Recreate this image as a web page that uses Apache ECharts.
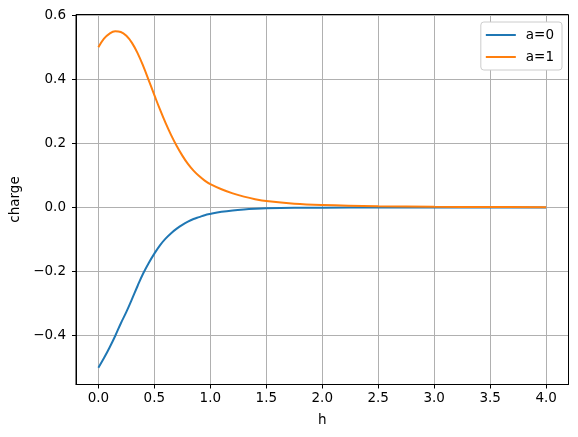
<!DOCTYPE html>
<html>
<head>
<meta charset="utf-8">
<script src="https://cdn.jsdelivr.net/npm/echarts@6/dist/echarts.min.js"></script>
<style>html,body{margin:0;padding:0;background:#fff}#c{width:578px;height:437px}</style>
</head>
<body>
<div id="c"></div>
<script>
const hValues = [0,0.05,0.1,0.15,0.2,0.25,0.3,0.35,0.4,0.45,0.5,0.55,0.6,0.65,0.7,0.75,0.8,0.85,0.9,0.95,1.0,1.1,1.2,1.3,1.4,1.5,1.75,2.0,2.5,3.0,3.5,4.0];
const chargeA0 = [-0.5,-0.47,-0.437,-0.401,-0.362,-0.326,-0.286,-0.245,-0.206,-0.173,-0.144,-0.118,-0.097,-0.08,-0.066,-0.054,-0.044,-0.036,-0.03,-0.024,-0.02,-0.0135,-0.009,-0.006,-0.004,-0.0027,-0.001,-0.0004,-0.0001,0,0,0];
const chargeA1 = [0.5,0.527,0.543,0.55,0.548,0.536,0.514,0.482,0.442,0.397,0.351,0.306,0.264,0.226,0.192,0.162,0.136,0.115,0.098,0.084,0.073,0.057,0.044,0.034,0.026,0.02,0.0115,0.0075,0.0038,0.0023,0.0015,0.001];
const xTicks = [0,0.5,1.0,1.5,2.0,2.5,3.0,3.5,4.0];
const yTicks = [-0.4,-0.2,0.0,0.2,0.4,0.6];
const seriesNames = ['a=0','a=1'];

const font = 'DejaVu Sans';
const fmt = v => (v < 0 ? '\u2212' : '') + Math.abs(v).toFixed(1);
const chart = echarts.init(document.getElementById('c'));
chart.setOption({
  animation: false,
  grid: {left: 73.5, right: 9.5, top: 14.5, bottom: 52.5, show: true, borderColor: '#000', borderWidth: 1, z: 3, containLabel: false},
  legend: {
    right: 16, top: 22, orient: 'vertical', data: seriesNames,
    icon: 'rect', itemWidth: 30, itemHeight: 2,
    backgroundColor: '#fff', borderColor: '#cccccc', borderWidth: 1, borderRadius: 3,
    padding: [6, 8, 6, 5], itemGap: 8,
    textStyle: {fontFamily: font, fontSize: 13.5, color: '#000', padding: [0,0,0,5]}
  },
  xAxis: {
    type: 'value', min: -0.2, max: 4.2,
    name: 'h', nameLocation: 'middle', nameGap: 29,
    nameTextStyle: {fontFamily: font, fontSize: 13.5, color: '#000'},
    axisLine: {show: true, onZero: false, lineStyle: {color: '#000', width: 1}},
    axisTick: {show: true, inside: false, length: 4, customValues: xTicks, lineStyle: {color: '#000'}},
    axisLabel: {customValues: xTicks, formatter: fmt, margin: 7, fontFamily: font, fontSize: 13.5, color: '#000'},
    splitLine: {show: true, lineStyle: {color: '#b0b0b0', width: 1}}
  },
  yAxis: {
    type: 'value', min: -0.5525, max: 0.6025,
    name: 'charge', nameLocation: 'middle', nameGap: 54, nameRotate: 90,
    nameTextStyle: {fontFamily: font, fontSize: 13.5, color: '#000'},
    axisLine: {show: true, onZero: false, lineStyle: {color: '#000', width: 1}},
    axisTick: {show: true, inside: false, length: 4, customValues: yTicks, lineStyle: {color: '#000'}},
    axisLabel: {customValues: yTicks, formatter: fmt, margin: 10, fontFamily: font, fontSize: 13.5, color: '#000'},
    splitLine: {show: true, lineStyle: {color: '#b0b0b0', width: 1}}
  },
  series: [
    {name: seriesNames[0], type: 'line', symbol: 'none', smooth: 0.4, color: '#1f77b4',
     lineStyle: {width: 2, color: '#1f77b4'}, data: hValues.map((h, i) => [h, chargeA0[i]])},
    {name: seriesNames[1], type: 'line', symbol: 'none', smooth: 0.4, color: '#ff7f0e',
     lineStyle: {width: 2, color: '#ff7f0e'}, data: hValues.map((h, i) => [h, chargeA1[i]])}
  ]
});
</script>
</body>
</html>
